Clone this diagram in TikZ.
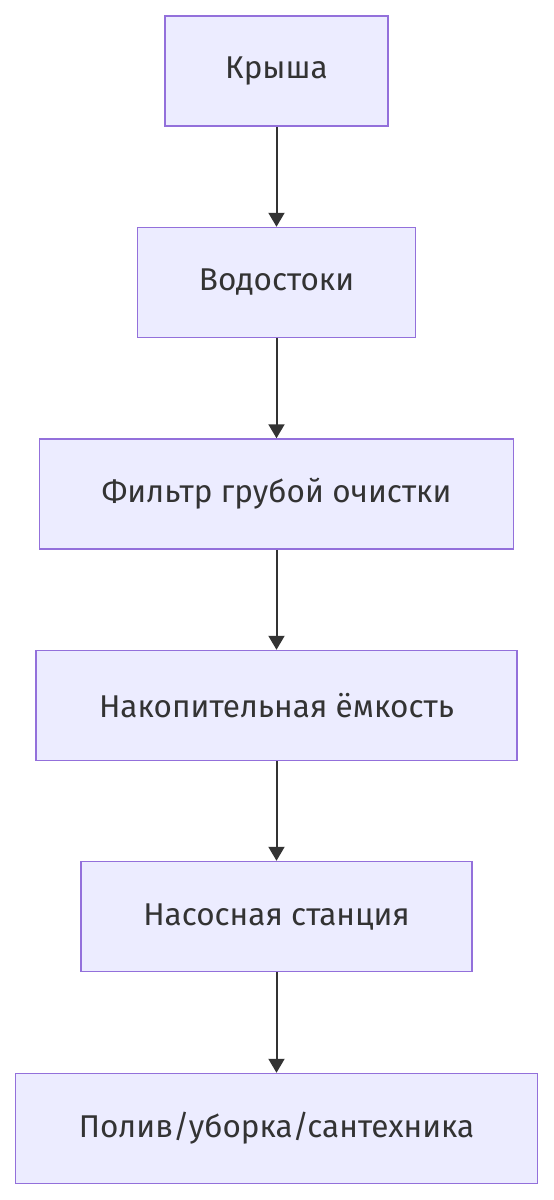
\documentclass[tikz,border=0pt]{standalone}
\usepackage{fontspec}
\setmainfont{Fira Sans}
\usetikzlibrary{arrows.meta}
\definecolor{boxfill}{HTML}{ECECFF}
\definecolor{boxline}{HTML}{9370DB}
\definecolor{arrowline}{HTML}{333333}
\tikzset{
  stage/.style={rectangle, draw=boxline, fill=boxfill, line width=1.5pt, text=arrowline,
    minimum height=110pt, inner sep=0pt, font=\fontsize{31.5}{36}\selectfont},
  flow/.style={draw=arrowline, line width=2pt, -{Triangle[width=16pt,length=14pt]}}
}
\begin{document}
\begin{tikzpicture}[x=1pt, y=-1pt]
\useasboundingbox (0,0) rectangle (554,1200);

\node[stage, minimum width=223pt] (roof) at (276.5, 71) {Крыша};
\node[stage, minimum width=278pt] (gutter) at (276.5, 282.5) {Водостоки};
\node[stage, minimum width=474pt] (filter) at (276.5, 494) {Фильтр грубой очистки};
\node[stage, minimum width=481pt] (tank) at (276.5, 705.5) {Накопительная ёмкость};
\node[stage, minimum width=391pt] (pump) at (276.5, 916.5) {Насосная станция};
\node[stage, minimum width=522pt] (use) at (276.5, 1128.5) {Полив/уборка/сантехника};

\foreach \a/\b in {roof/gutter, gutter/filter, filter/tank, tank/pump, pump/use}
  \draw[flow] (\a) -- (\b);
\end{tikzpicture}
\end{document}
